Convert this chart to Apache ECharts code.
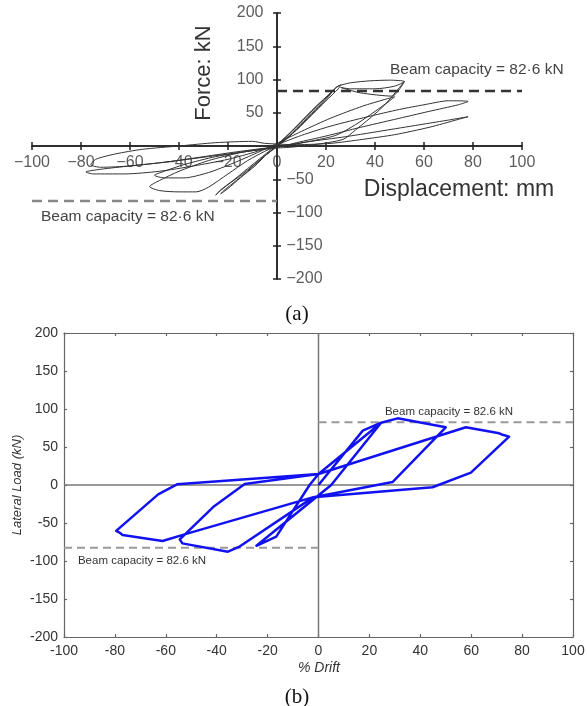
<!DOCTYPE html>
<html><head><meta charset="utf-8">
<script src="https://cdn.jsdelivr.net/npm/echarts@6/dist/echarts.min.js"></script>
<style>html,body{margin:0;padding:0;background:#fff}#c{width:587px;height:706px}</style>
</head><body><div id="c"></div>
<script>
// ---------- shared ----------
const beamCapacity = 82.6;
const xRange = [-100, 100];
const yRange = [-200, 200];
const xInterval = 20;
const yInterval = 50;
const xTicksA = [-100, -80, -60, -40, -20, 0, 20, 40, 60, 80, 100];
const yTicksA = [-200, -150, -100, -50, 50, 100, 150, 200];

// ---------- panel (a): Force (kN) vs Displacement (mm), test loops ----------
const loopA1 = [[0,2],[6,22],[12,44],[18,66],[22,80],[24,88],[26,92],[25,86],[20,68],[14,46],[8,24],[2,6],[-2,-6],[-8,-24],[-14,-42],[-20,-58],[-24,-70],[-25,-74],[-23,-66],[-18,-52],[-12,-34],[-6,-16],[0,2]];
const loopA2 = [[-1,-4],[5,14],[11,36],[17,58],[21,74],[23,84],[22,80],[17,60],[11,38],[5,16],[0,0],[-6,-18],[-12,-38],[-18,-56],[-22,-68],[-23,-72],[-20,-64],[-15,-48],[-9,-30],[-4,-12],[-1,-4]];
const loopA3 = [[0,0],[8,30],[16,60],[22,80],[25,90],[30,95],[38,98],[46,99],[52,97],[48,90],[40,86],[30,86],[26,88],[34,80],[47,75],[52,97],[50,88],[44,62],[38,42],[32,24],[27,10],[15,2],[5,-2],[-5,-4],[-15,-10],[-28,-22],[-40,-38],[-48,-52],[-52,-61],[-48,-67],[-40,-69],[-33,-69],[-28,-62],[-20,-42],[-12,-22],[-5,-8],[0,0]];
const loopA4 = [[0,4],[10,22],[22,42],[35,60],[44,70],[48,74],[46,68],[40,52],[32,32],[24,16],[12,6],[0,-2],[-12,-8],[-25,-16],[-38,-28],[-46,-38],[-50,-44],[-46,-48],[-38,-48],[-28,-40],[-18,-26],[-8,-10],[0,4]];
const loopA5 = [[0,2],[10,16],[22,30],[37,44],[50,55],[60,62],[70,68],[78,67],[74,62],[62,52],[48,40],[34,28],[20,15],[8,5],[0,-2],[-12,-8],[-28,-16],[-45,-24],[-60,-30],[-72,-35],[-78,-39],[-75,-42],[-62,-42],[-48,-38],[-34,-30],[-20,-20],[-8,-8],[0,2]];
const loopA6 = [[0,-1],[12,6],[28,14],[45,24],[60,33],[70,39],[78,44],[74,40],[62,28],[48,17],[35,10],[22,4],[8,2],[-5,4],[-10,7],[-25,5],[-40,0],[-55,-5],[-66,-12],[-74,-20],[-76,-28],[-72,-32],[-60,-30],[-45,-24],[-30,-16],[-15,-8],[0,-1]];
const loopsA = [loopA1, loopA2, loopA3, loopA4, loopA5, loopA6];

// ---------- panel (b): Lateral Load (kN) vs % Drift, model ----------
const driftPath = [
  [0,0],[17.4,71.5],[24.6,82],[5,0],[-24.4,-80],[-16.6,-68],[-3.5,0],[0,14.5],
  [24.6,82],[31.1,87.7],[50,75.9],[29.1,3.9],[-2,-16],
  [-31,-81],[-35.6,-87.7],[-53.5,-76.8],[-54.5,-71.5],[-41.4,-29],[-29,1.3],[0,14.5],
  [57.9,75.9],[71,68],[72,66.5],[74.9,63.6],[59.9,16.2],[44.8,-3],[-2,-16],
  [-51.3,-63.6],[-61.3,-73.7],[-77,-65.8],[-78,-63],[-79.5,-60.3],[-63,-12.3],[-55.6,0.9],[0,14.5]
];

const capLabelA = 'Beam capacity = ' + beamCapacity.toFixed(1).replace('.', '\u00b7') + ' kN';
const capLabelB = 'Beam capacity = ' + beamCapacity.toFixed(1) + ' kN';
const minus = v => v < 0 ? '\u2212' + (-v) : String(v);

const chart = echarts.init(document.getElementById('c'), null, {renderer: 'canvas'});

const axA = {color: '#222', width: 1.5};
const sansA = 'Liberation Sans, Arial, sans-serif';

function xA(pos) {
  return {
    gridIndex: 0, type: 'value', min: xRange[0], max: xRange[1], interval: xInterval, position: pos,
    axisLine: {onZero: true, onZeroAxisIndex: 0, lineStyle: axA},
    axisTick: {length: 4, lineStyle: axA},
    axisLabel: {show: false},
    splitLine: {show: false}
  };
}
function yA(pos) {
  return {
    gridIndex: 0, type: 'value', min: yRange[0], max: yRange[1], interval: yInterval, position: pos,
    axisLine: {onZero: true, onZeroAxisIndex: 0, lineStyle: axA},
    axisTick: {length: 4, lineStyle: axA},
    axisLabel: {show: false},
    splitLine: {show: false}
  };
}
const axB = {color: '#666', width: 1.2};
function xB(pos, showLabel) {
  return {
    gridIndex: 1, type: 'value', min: xRange[0], max: xRange[1], interval: xInterval, position: pos,
    axisLine: {onZero: false, lineStyle: axB},
    axisTick: {inside: true, length: 3, lineStyle: axB},
    axisLabel: {show: showLabel, margin: 7, fontSize: 14, color: '#333', fontFamily: sansA},
    splitLine: {show: false}
  };
}
function yB(pos, showLabel) {
  return {
    gridIndex: 1, type: 'value', min: yRange[0], max: yRange[1], interval: yInterval, position: pos,
    axisLine: {onZero: false, lineStyle: axB},
    axisTick: {inside: true, length: 3, lineStyle: axB},
    axisLabel: {show: showLabel, margin: 6, fontSize: 14, color: '#333', fontFamily: sansA},
    splitLine: {show: false}
  };
}

const series = [];
loopsA.forEach(loop => series.push({
  type: 'line', xAxisIndex: 0, yAxisIndex: 0, data: loop, showSymbol: false, smooth: 0.25,
  lineStyle: {color: '#333', width: 1}, z: 3
}));
series.push({type: 'line', xAxisIndex: 0, yAxisIndex: 0, showSymbol: false,
  data: [[0, beamCapacity], [xRange[1], beamCapacity]],
  lineStyle: {color: '#333', width: 2.5, type: [10, 6]}, z: 4});
series.push({type: 'line', xAxisIndex: 0, yAxisIndex: 0, showSymbol: false,
  data: [[xRange[0], -beamCapacity], [0, -beamCapacity]],
  lineStyle: {color: '#888', width: 2.5, type: [10, 6]}, z: 4});

// tick labels of panel (a), placed through the axes' own scales
const tickLabelStyle = {show: true, fontSize: 16, color: '#333', fontFamily: sansA, formatter: p => minus(p.value[p.value[0] === 0 && p.seriesName !== 'xl' ? 1 : 0])};
series.push({name: 'xl', type: 'scatter', xAxisIndex: 0, yAxisIndex: 0, symbolSize: 1, itemStyle: {color: 'rgba(0,0,0,0)'},
  data: xTicksA.map(v => [v, 0]), silent: true, z: 6,
  label: Object.assign({}, tickLabelStyle, {position: 'bottom', distance: 8})});
series.push({name: 'ylp', type: 'scatter', xAxisIndex: 0, yAxisIndex: 0, symbolSize: 1, itemStyle: {color: 'rgba(0,0,0,0)'},
  data: yTicksA.filter(v => v > 0).map(v => [0, v]), silent: true, z: 6,
  label: Object.assign({}, tickLabelStyle, {position: 'left', distance: 13})});
series.push({name: 'yln', type: 'scatter', xAxisIndex: 0, yAxisIndex: 0, symbolSize: 1, itemStyle: {color: 'rgba(0,0,0,0)'},
  data: yTicksA.filter(v => v < 0).map(v => [0, v]), silent: true, z: 6,
  label: Object.assign({}, tickLabelStyle, {position: 'right', distance: 9})});

// panel (b)
series.push({type: 'line', xAxisIndex: 2, yAxisIndex: 2, showSymbol: false,
  data: [[xRange[0], 0], [xRange[1], 0]], lineStyle: {color: '#777', width: 1.5}, z: 2});
series.push({type: 'line', xAxisIndex: 2, yAxisIndex: 2, showSymbol: false,
  data: [[0, yRange[0]], [0, yRange[1]]], lineStyle: {color: '#777', width: 1.5}, z: 2});
series.push({type: 'line', xAxisIndex: 2, yAxisIndex: 2, showSymbol: false,
  data: [[0, beamCapacity], [xRange[1], beamCapacity]],
  lineStyle: {color: '#999', width: 2, type: [8, 5]}, z: 2});
series.push({type: 'line', xAxisIndex: 2, yAxisIndex: 2, showSymbol: false,
  data: [[xRange[0], -beamCapacity], [0, -beamCapacity]],
  lineStyle: {color: '#999', width: 2, type: [8, 5]}, z: 2});
series.push({type: 'line', xAxisIndex: 2, yAxisIndex: 2, showSymbol: false, data: driftPath,
  lineStyle: {color: '#1212f0', width: 2.5, join: 'round'}, z: 5});

chart.setOption({
  animation: false,
  backgroundColor: '#fff',
  grid: [
    {left: 32, right: 65, top: 13, bottom: 427, outerBoundsMode: 'none', containLabel: false},
    {left: 64, right: 14, top: 333, bottom: 69, outerBoundsMode: 'none', containLabel: false}
  ],
  xAxis: [xA('bottom'), xA('top'), xB('bottom', true), xB('top', false)],
  yAxis: [yA('left'), yA('right'), yB('left', true), yB('right', false)],
  series: series,
  graphic: [
    {type: 'text', x: 204, y: 73, rotation: Math.PI / 2,
      style: {text: 'Force: kN', fontSize: 22, fontFamily: sansA, fill: '#333', align: 'center', verticalAlign: 'middle'}},
    {type: 'text', x: 459, y: 190,
      style: {text: 'Displacement: mm', fontSize: 23, fontFamily: sansA, fill: '#333', align: 'center', verticalAlign: 'middle'}},
    {type: 'text', x: 390, y: 70,
      style: {text: capLabelA, fontSize: 15.5, fontFamily: sansA, fill: '#444', align: 'left', verticalAlign: 'middle'}},
    {type: 'text', x: 41, y: 217,
      style: {text: capLabelA, fontSize: 15.5, fontFamily: sansA, fill: '#444', align: 'left', verticalAlign: 'middle'}},
    {type: 'text', x: 297, y: 314,
      style: {text: '(a)', fontSize: 21, fontFamily: 'Liberation Serif, Times New Roman, serif', fill: '#111', align: 'center', verticalAlign: 'middle'}},
    {type: 'text', x: 449, y: 412,
      style: {text: capLabelB, fontSize: 11.5, fontFamily: sansA, fill: '#333', align: 'center', verticalAlign: 'middle'}},
    {type: 'text', x: 142, y: 561,
      style: {text: capLabelB, fontSize: 11.5, fontFamily: sansA, fill: '#333', align: 'center', verticalAlign: 'middle'}},
    {type: 'text', x: 17, y: 485, rotation: Math.PI / 2,
      style: {text: 'Lateral Load (kN)', fontSize: 13, fontStyle: 'italic', fontFamily: sansA, fill: '#333', align: 'center', verticalAlign: 'middle'}},
    {type: 'text', x: 319, y: 668,
      style: {text: '% Drift', fontSize: 14, fontStyle: 'italic', fontFamily: sansA, fill: '#333', align: 'center', verticalAlign: 'middle'}},
    {type: 'text', x: 297, y: 697,
      style: {text: '(b)', fontSize: 21, fontFamily: 'Liberation Serif, Times New Roman, serif', fill: '#111', align: 'center', verticalAlign: 'middle'}}
  ]
});
</script></body></html>
